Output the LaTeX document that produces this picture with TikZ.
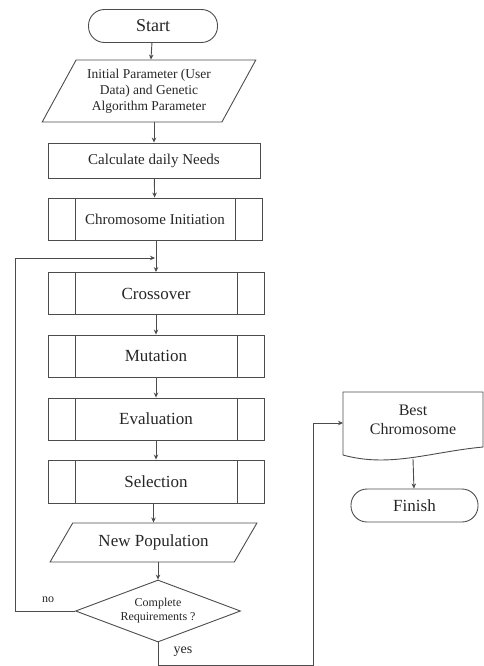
\documentclass[tikz,border=0pt]{standalone}
\usepackage{fontspec}
\setmainfont{Liberation Serif}
\usetikzlibrary{shapes.geometric,arrows.meta}
\begin{document}
\begin{tikzpicture}[x=1pt,y=-1pt,
  ln/.style={draw=black!70, line width=0.9pt},
  arr/.style={ln, -{Stealth[length=5pt,width=4.5pt]}},
  txt/.style={text=black!85},
  term/.style={ln, txt, rounded corners=16pt, minimum height=33pt, inner sep=0pt},
  procbox/.style={ln, txt, minimum width=216pt, minimum height=42pt, inner sep=0pt},
  predef/.style={procbox, path picture={
     \draw[draw=black!70, line width=0.9pt] ([xshift=27pt]path picture bounding box.north west) -- ([xshift=27pt]path picture bounding box.south west);
     \draw[draw=black!70, line width=0.9pt] ([xshift=-27pt]path picture bounding box.north east) -- ([xshift=-27pt]path picture bounding box.south east);}},
  io/.style={ln, txt, trapezium, trapezium stretches=true, inner sep=0pt},
  lbl/.style={text=black!85, inner sep=0pt}
]
\useasboundingbox (0,0) rectangle (483,666);
\node[term, minimum width=129pt, font=\rmfamily\fontsize{18}{20}\selectfont] (start) at (153,26) {Start};
\node[io, trapezium left angle=57, trapezium right angle=123, minimum width=214pt, minimum height=62pt, align=center, font=\rmfamily\fontsize{13.5}{16}\selectfont] (param) at (149,91) {Initial Parameter (User\\Data) and Genetic\\Algorithm Parameter};
\node[procbox, minimum width=212pt, minimum height=35pt, font=\rmfamily\fontsize{15}{17}\selectfont] (calc) at (154,160.5) {Calculate daily Needs};
\node[predef, minimum width=214pt, font=\rmfamily\fontsize{15}{17}\selectfont] (init) at (155,219) {Chromosome Initiation};
\node[predef, font=\rmfamily\fontsize{17}{19}\selectfont] (cross) at (156,293.5) {Crossover};
\node[predef, font=\rmfamily\fontsize{17}{19}\selectfont] (mut) at (156,356) {Mutation};
\node[predef, font=\rmfamily\fontsize{17}{19}\selectfont] (eval) at (156,419) {Evaluation};
\node[predef, minimum height=43pt, font=\rmfamily\fontsize{17}{19}\selectfont] (sel) at (156,481.5) {Selection};
\node[io, trapezium left angle=45, trapezium right angle=135, minimum width=207pt, minimum height=39pt, font=\rmfamily\fontsize{17}{19}\selectfont] (newpop) at (153.5,542.5) {New Population};
\node[ln, diamond, aspect=2.6, inner sep=0pt, minimum width=165pt, minimum height=62pt, align=center, text=black!85, font=\rmfamily\fontsize{12}{14}\selectfont] (dec) at (158,611) {Complete\\Requirements ?};
% Best chromosome (document shape)
\draw[ln] (343,392) -- (483,392) -- (483,447) .. controls (430,452) and (390,468) .. (343,455) -- cycle;
\node[txt, align=center, inner sep=0pt, font=\rmfamily\fontsize{16}{19}\selectfont] (best) at (413,420) {Best\\Chromosome};
\coordinate (bestL) at (343,423);
\coordinate (bestB) at (413,459);
\node[term, minimum width=127pt, font=\rmfamily\fontsize{17}{19}\selectfont] (fin) at (414.5,505.5) {Finish};
% connectors
\draw[arr] (start) -- (param);
\draw[arr] (param.south -| calc.north) -- (calc);
\draw[arr] (calc) -- (init);
\draw[arr] (init.south -| cross.north) -- (cross);
\draw[arr] (cross) -- (mut);
\draw[arr] (mut) -- (eval);
\draw[arr] (eval) -- (sel);
\draw[arr] (sel.south -| newpop.north) -- (newpop);
\draw[arr] (newpop.south -| dec.north) -- (dec);
\coordinate (loopL) at (15,258);
\coordinate (loopR) at (155,258);
\draw[arr] (dec.west) -| (loopL) -- (loopR);
\coordinate (yesB) at (158,665);
\coordinate (yesR) at (313,665);
\draw[arr] (dec.south) -- (yesB) -- (yesR) |- (bestL);
\draw[arr] (bestB) -- (fin);
\node[lbl, font=\rmfamily\fontsize{12}{14}\selectfont] (no) at (48,600) {no};
\node[lbl, font=\rmfamily\fontsize{14}{16}\selectfont] (yes) at (183,652) {yes};
\end{tikzpicture}
\end{document}
